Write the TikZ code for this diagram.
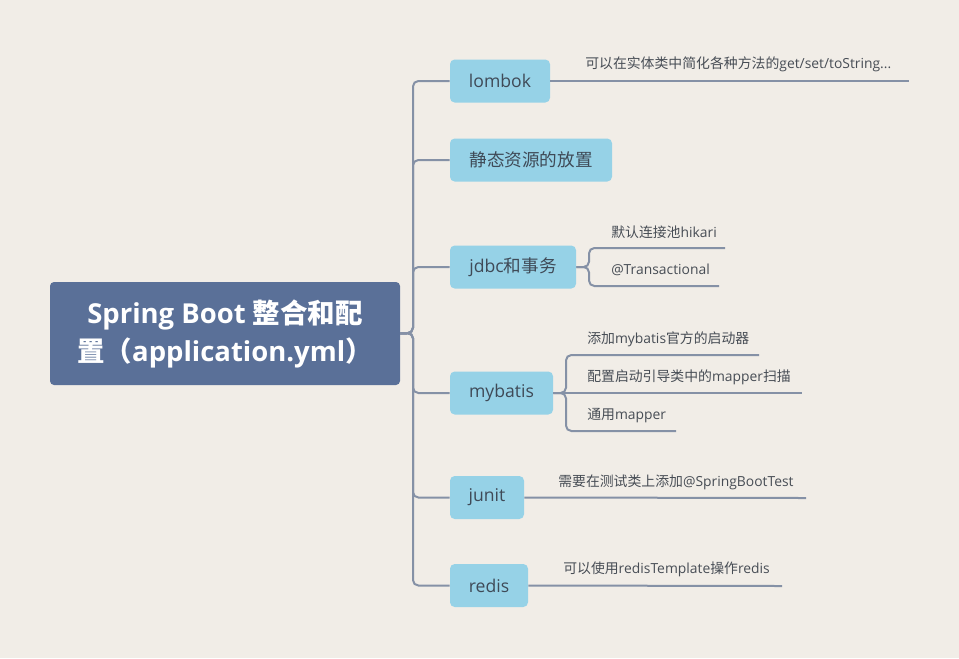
\documentclass[tikz,border=0pt]{standalone}
\usepackage{fontspec}
\setmainfont{Open Sans}
\newfontfamily\cjk{Noto Sans CJK SC}
\newcommand\zh[1]{{\cjk #1}}
\definecolor{bgc}{HTML}{F1EDE7}
\definecolor{rootc}{HTML}{5A7098}
\definecolor{childc}{HTML}{96D2E7}
\definecolor{linec}{HTML}{8591A6}
\definecolor{txtc}{HTML}{3F4A57}
\definecolor{leafc}{HTML}{474D55}
\tikzset{
  rootbox/.style={fill=rootc, rounded corners=3pt, inner sep=0pt, minimum width=262.5pt, minimum height=77.25pt,
    text=white, align=center, font=\bfseries\fontsize{20.6pt}{28.5pt}\selectfont},
  childbox/.style={fill=childc, rounded corners=3.5pt, inner sep=0pt, minimum height=32.25pt,
    text=txtc, font=\fontsize{13.2pt}{16pt}\selectfont},
  leaftext/.style={anchor=west, inner sep=0pt, text=leafc, font=\fontsize{10.4pt}{12pt}\selectfont},
  conn/.style={draw=linec, line width=1.5pt, rounded corners=4pt},
}
\begin{document}
\begin{tikzpicture}[x=0.75pt,y=-0.75pt]
\fill[bgc] (0,0) rectangle (959,658);
\useasboundingbox (0,0) rectangle (959,658);

% root
\node[rootbox] (root) at (225,333.5) {Spring Boot \zh{整合和配}\\\zh{置（}application.yml\zh{）}};

% children
\node[childbox, minimum width=75pt] (lombok) at (500,81) {lombok};
\node[childbox, minimum width=121.5pt] (static) at (531,160) {\zh{静态资源的放置}};
\node[childbox, minimum width=94.5pt] (jdbc) at (513,267) {jdbc\zh{和事务}};
\node[childbox, minimum width=77.25pt] (mybatis) at (501.5,393) {mybatis};
\node[childbox, minimum width=55.5pt] (junit) at (487,497.5) {junit};
\node[childbox, minimum width=58.5pt] (redis) at (489,585.5) {redis};

% trunk connectors
\coordinate (trunk) at (413,333);
\foreach \c in {lombok,static,jdbc,mybatis,junit,redis}{
  \draw[conn] (root.east) -- (trunk) |- (\c.west);
}

% leaves: lombok
\coordinate (lombokE) at (909,81);
\draw[conn] (lombok.east) -- (lombokE);
\node[leaftext] (lombokT) at (585,64.5) {\zh{可以在实体类中简化各种方法的}get/set/toString...};

% leaves: jdbc
\coordinate (jdbcS) at (589,267);
\coordinate (jdbcA) at (725,248);
\coordinate (jdbcB) at (719,286);
\draw[conn] (jdbc.east) -- (jdbcS) |- (jdbcA);
\draw[conn] (jdbc.east) -- (jdbcS) |- (jdbcB);
\node[leaftext] (jdbcAT) at (611,232) {\zh{默认连接池}hikari};
\node[leaftext] (jdbcBT) at (611,269.5) {@Transactional};

% leaves: mybatis
\coordinate (mybS) at (566,393);
\coordinate (mybA) at (759,355);
\coordinate (mybB) at (802,393);
\coordinate (mybC) at (676,431);
\draw[conn] (mybatis.east) -- (mybS) |- (mybA);
\draw[conn] (mybatis.east) -- (mybB);
\draw[conn] (mybatis.east) -- (mybS) |- (mybC);
\node[leaftext] (mybAT) at (587,339.5) {\zh{添加}mybatis\zh{官方的启动器}};
\node[leaftext] (mybBT) at (587,377.5) {\zh{配置启动引导类中的}mapper\zh{扫描}};
\node[leaftext] (mybCT) at (587,415.5) {\zh{通用}mapper};

% leaves: junit
\coordinate (junitE) at (806,498);
\draw[conn] (junit.east) -- (junitE);
\node[leaftext] (junitT) at (558,482.5) {\zh{需要在测试类上添加}@SpringBootTest};

% leaves: redis
\coordinate (redisE) at (782,586);
\draw[conn] (redis.east) -- (redisE);
\node[leaftext] (redisT) at (563,569.5) {\zh{可以使用}redisTemplate\zh{操作}redis};
\end{tikzpicture}
\end{document}
